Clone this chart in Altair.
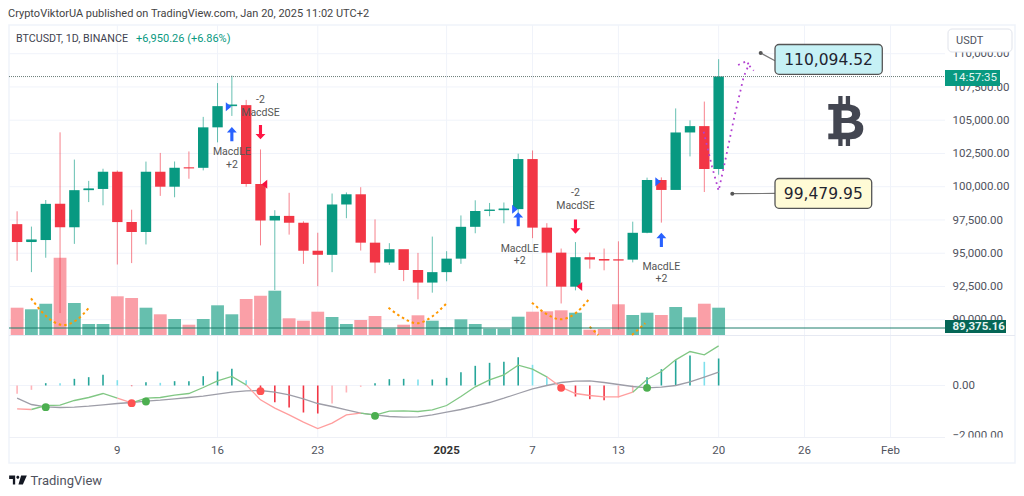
import altair as alt
import pandas as pd

# ---------- data ----------
opens  = [97185,95840,95990,98710,96950,99740,99831,101125,97340,96593,101125,100000,101424,101420,104463,106058,
          106133,100204,97461,97805,97291,95186,94877,98663,99430,95792,94299,95300,93738,92792,93576,94591,96984,
          98174,98236,98314,102078,96922,95043,92484,94701,94566,94516,94516,96534,100505,99757,104078,104556,101331]
highs  = [98150,97000,99000,104088,102039,100439,101350,101215,98270,101888,102540,101895,102650,105250,107793,108353,
          106524,102800,98233,99540,97400,96538,99487,99569,99963,97544,95755,95225,95024,96250,95151,97839,98976,
          98778,98813,102482,102724,97258,95349,95836,95050,95350,95893,97371,100681,100700,105885,104988,106400,109588]
lows   = [94430,93578,94660,90500,95700,98844,98600,94150,94256,95658,99311,99205,100600,101227,103333,105321,
          100000,95587,92232,96398,94200,92520,93575,97632,95199,93500,94118,92900,91530,92033,92888,94201,96500,
          97781,97250,97920,96132,92500,91220,92206,93840,93712,89256,94310,96500,97300,99950,102277,99600,100900]
closes = [95840,95990,98710,96950,99740,99831,101125,97340,96593,101125,100000,101424,101420,104463,106058,106133,
          100204,97461,97805,97291,95186,94881,98663,99430,95792,94299,95300,93738,92792,93576,94591,96984,98174,
          98236,98314,102078,96922,95043,92484,94701,94566,94488,94488,96534,100504,99756,104078,104556,101331,108282]
volumes = [27.3,25.7,31.3,77.3,32,11,11,38.7,37,27.3,20.7,16,10.3,16,29.7,20.7,36,39.3,44.3,16.7,14.3,23.3,18,
           11,15,19,6.3,10.3,19.7,14.3,7.7,15.7,11,6.3,6.3,18.3,23.3,23.7,24.7,22.3,5.3,6,30.7,20,22.3,20,28,17.7,31.3,27.3]
macd_hist = [-333,-173,93,93,267,333,427,213,-27,133,107,173,173,373,560,667,213,-347,-667,-880,-1080,-1120,-720,
             -280,-53,93,253,267,240,240,307,533,787,907,947,1133,827,360,-200,-440,-547,-587,-480,-267,333,653,1013,1200,947,1080]
hist_colour_key = ["l","l","d","c","d","d","d","c","r","d","c","d","d","d","d","d","c","r","r","r","r","r","l",
                   "l","l","d","d","d","c","d","d","d","d","d","d","d","c","c","r","r","r","r","l","l","d","d","d","d","c","d"]
macd_line = [-933,-960,-800,-787,-600,-480,-320,-507,-693,-507,-480,-387,-320,-80,187,360,27,-573,-907,-1173,-1467,
             -1720,-1507,-1173,-1107,-1187,-1027,-1013,-1040,-973,-800,-440,-53,227,427,813,653,347,-67,-320,-400,-453,-453,-267,240,560,1027,1360,1227,1587]
signal_line = [-507,-760,-853,-880,-867,-827,-773,-720,-680,-627,-587,-533,-480,-427,-347,-267,-213,-200,-267,-373,-533,
               -720,-840,-973,-1107,-1173,-1240,-1267,-1253,-1173,-1067,-960,-827,-680,-507,-320,-133,0,120,173,187,120,40,-40,-93,-67,0,147,333,533]
macd_runs = [("r",0,1),("g",1,7),("r",7,8),("g",8,16),("r",16,24),("g",24,37),("r",37,43),("g",43,49)]
cross_days = [2,8,9,17,25,38,44]
cross_vals = [-867,-707,-640,-227,-1213,-93,-93]
cross_keys = ["g","r","g","r","g","r","g"]

date_ticks = [7,14,21,30,36,42,49,55,61]
date_labels = ["9","16","23","2025","7","13","20","26","Feb"]
price_ticks = [90000,92500,95000,97500,100000,102500,105000,107500,110000]
indicator_ticks = [0,-2000]
indicator_labels = ["0.00","−2,000.00"]

cup_arcs = [
    ("a",[0.97,1.72,2.53,3.23,4.16,5.02],[36.7,23.3,13.3,10,15,27.3]),
    ("b",[25.94,26.88,27.92,28.97,29.95],[27.3,17.7,11.7,18.3,31]),
    ("c",[35.96,36.9,37.95,39,39.9],[32.3,21.7,15.7,21.7,35]),
    ("d",[39.99,40.6],[8.3,0]),
    ("e",[42.95,43.88],[0,11.7]),
]
forecast_a_x = [47.95,48.54,49.0,49.47,50.05,50.75,51.1,51.45]
forecast_a_y = [104135,101504,99700,102008,105015,108271,109150,108722]
forecast_b_x = [50.36,50.99,51.1]
forecast_b_y = [109150,109450,109150]

long_days = [15,35,45]
long_prices = [106015,98300,100376]
short_days = [17,39]
short_prices = [100180,92500]
last_close = 108282
support_price = 89375.16
forecast_high = "110,094.52"
forecast_low = "99,479.95"

# ---------- scales ----------
W, H = 1008, 480
ORIGIN = 8
X_DOMAIN = [-0.636, 69.77]
x_scale = alt.Scale(domain=X_DOMAIN, range=[0, W], nice=False, zero=False, padding=0)
price_scale = alt.Scale(domain=[88850, 112158], range=[327, 17], nice=False, zero=False)
vol_scale = alt.Scale(domain=[0, 100], range=[327, 227], nice=False, zero=False)
ind_scale = alt.Scale(domain=[-2000, 1000], range=[427.5, 352.5], nice=False, zero=False)

GREEN, RED = "#089981", "#F23645"
FONT = "Roboto"
TXT = "#50535E"

def X(f="x"):
    return alt.X(f"{f}:Q", scale=x_scale, axis=None)
def PY(f="y"):
    return alt.Y(f"{f}:Q", scale=price_scale, axis=None)
def VY(f="y"):
    return alt.Y(f"{f}:Q", scale=vol_scale, axis=None)
def IY(f="y"):
    return alt.Y(f"{f}:Q", scale=ind_scale, axis=None)
def colour(domain, rng):
    return alt.Color("k:N", scale=alt.Scale(domain=domain, range=rng), legend=None)
def px(v):
    return alt.value(v - ORIGIN)

n = len(opens)
days = list(range(n))
candles = pd.DataFrame({"x": days, "o": opens, "h": highs, "l": lows, "c": closes,
                        "k": ["u" if c >= o else "d" for o, c in zip(opens, closes)], "v": volumes})
doji = candles[(candles.o - candles.c).abs() < 220]
UD = (["u", "d"], [GREEN, RED])

layers = []

def rect_px(x0, x1, y0, y1, **kw):
    return alt.Chart(pd.DataFrame({"a": [0]})).mark_rect(**kw).encode(
        x=px(x0), x2=px(x1), y=px(y0), y2=px(y1))

def label_px(text, x, y, **kw):
    base = dict(font=FONT, fontSize=11, color=TXT, align="left", baseline="middle")
    base.update(kw)
    return alt.Chart(pd.DataFrame({"t": [text]})).mark_text(**base).encode(
        x=px(x), y=px(y), text="t:N")

# frame
layers.append(rect_px(9, 1015, 25, 463, fill="white", stroke="#F0F3FA", strokeWidth=1.5))

# grid
grid_v = pd.DataFrame({"x": date_ticks})
layers.append(alt.Chart(grid_v).mark_rule(color="#F0F3FA", strokeWidth=1).encode(x=X(), y=px(25), y2=px(437)))
grid_h = pd.DataFrame({"y": price_ticks})
layers.append(alt.Chart(grid_h).mark_rule(color="#F0F3FA", strokeWidth=1).encode(y=PY(), x=px(9), x2=px(945)))
layers.append(alt.Chart(pd.DataFrame({"y": indicator_ticks[:1]})).mark_rule(color="#F0F3FA", strokeWidth=1).encode(y=IY(), x=px(9), x2=px(945)))
layers.append(rect_px(9, 1015, 335, 336, fill="#E6E9F2"))
layers.append(rect_px(9, 945, 437, 438, fill="#EEF0F6"))

# volume
vol_df = candles.assign(y0=0)
layers.append(alt.Chart(vol_df).mark_bar(size=12.8).encode(
    x=X(), y=VY("v"), y2="y0:Q", color=colour(["u", "d"], ["#66BFAE", "#FA9FA7"])))

# orange cup arcs
arc_rows = [{"x": x, "y": y, "g": g} for g, xs, ys in cup_arcs for x, y in zip(xs, ys)]
layers.append(alt.Chart(pd.DataFrame(arc_rows)).mark_line(
    color="#FF9800", strokeWidth=2, strokeDash=[2.5, 3], interpolate="monotone").encode(
    x=X(), y=VY(), detail="g:N", order="x:Q"))

# candles
layers.append(alt.Chart(candles).mark_rule(strokeWidth=1, opacity=0.62).encode(
    x=X(), y=PY("l"), y2="h:Q", color=colour(*UD)))
layers.append(alt.Chart(candles).mark_bar(size=10.4).encode(
    x=X(), y=PY("o"), y2="c:Q", color=colour(*UD)))
layers.append(alt.Chart(doji).mark_tick(orient="horizontal", size=10.4, thickness=1.6).encode(
    x=X(), y=PY("c"), color=colour(*UD)))

# signal triangles
FLAG_R = "M-0.55,-0.9 L0.55,0 L-0.55,0.9 Z"
FLAG_L = "M0.55,-0.9 L-0.55,0 L0.55,0.9 Z"
layers.append(alt.Chart(pd.DataFrame({"x": long_days, "y": long_prices})).mark_point(
    shape=FLAG_R, filled=True, size=100, color="#2962FF", opacity=1, xOffset=-3.3).encode(x=X(), y=PY()))
layers.append(alt.Chart(pd.DataFrame({"x": short_days, "y": short_prices})).mark_point(
    shape=FLAG_L, filled=True, size=100, color="#F7103F", opacity=1, xOffset=4).encode(x=X(), y=PY()))

# arrows
ARROW_UP = "M0,-1 L0.7,-0.25 L0.22,-0.25 L0.22,1 L-0.22,1 L-0.22,-0.25 L-0.7,-0.25 Z"
ARROW_DN = "M0,1 L0.7,0.25 L0.22,0.25 L0.22,-1 L-0.22,-1 L-0.22,0.25 L-0.7,0.25 Z"
layers.append(alt.Chart(pd.DataFrame({"x": [15, 35, 45], "y": [103950, 97550, 96000]})).mark_point(
    shape=ARROW_UP, filled=True, size=200, color="#2962FF", opacity=1).encode(x=X(), y=PY()))
layers.append(alt.Chart(pd.DataFrame({"x": [17, 39], "y": [104100, 97000]})).mark_point(
    shape=ARROW_DN, filled=True, size=200, color="#FF1744", opacity=1).encode(x=X(), y=PY()))

# signal labels
sig = pd.DataFrame({
    "x": [15, 15, 17, 17, 35.1, 35.1, 39, 39, 45, 45],
    "y": [102600, 101620, 106500, 105550, 95350, 94400, 99500, 98550, 94000, 93050],
    "t": ["MacdLE", "+2", "-2", "MacdSE", "MacdLE", "+2", "-2", "MacdSE", "MacdLE", "+2"]})
layers.append(alt.Chart(sig).mark_text(font=FONT, fontSize=10.5, color="#555").encode(x=X(), y=PY(), text="t:N"))

# forecast path
fa = pd.DataFrame({"x": forecast_a_x, "y": forecast_a_y, "g": "a", "i": range(len(forecast_a_x))})
fb = pd.DataFrame({"x": forecast_b_x, "y": forecast_b_y, "g": "b", "i": range(len(forecast_b_x))})
layers.append(alt.Chart(pd.concat([fa, fb])).mark_line(
    color="#B23FD1", strokeWidth=1.8, strokeDash=[1.8, 4]).encode(x=X(), y=PY(), detail="g:N", order="i:Q"))

# last price + support line
layers.append(alt.Chart(pd.DataFrame({"y": [last_close]})).mark_rule(
    color="#6B7C78", strokeWidth=1, strokeDash=[1, 1]).encode(y=PY(), x=px(9), x2=px(945)))
layers.append(alt.Chart(pd.DataFrame({"y": [support_price]})).mark_rule(
    color="#1F7F6C", strokeWidth=1).encode(y=PY(), x=px(9), x2=px(945)))

# MACD histogram
hist = pd.DataFrame({"x": days, "y": macd_hist, "y0": 0, "k": hist_colour_key})
layers.append(alt.Chart(hist).mark_rule(strokeWidth=1.6).encode(
    x=X(), y=IY(), y2="y0:Q",
    color=colour(["d", "c", "r", "l"], ["#26A69A", "#7FE0EC", "#F23645", "#FFB3B8"])))

# MACD lines
layers.append(alt.Chart(pd.DataFrame({"x": days, "y": signal_line})).mark_line(
    color="#9E9EA8", strokeWidth=1.3).encode(x=X(), y=IY()))
run_rows = [{"x": i, "y": macd_line[i], "g": j, "k": k}
            for j, (k, a, b) in enumerate(macd_runs) for i in range(a, b + 1)]
layers.append(alt.Chart(pd.DataFrame(run_rows)).mark_line(strokeWidth=1.3).encode(
    x=X(), y=IY(), detail="g:N", order="x:Q", color=colour(["g", "r"], ["#81C784", "#FF9E9E"])))
layers.append(alt.Chart(pd.DataFrame({"x": cross_days, "y": cross_vals, "k": cross_keys})).mark_point(
    shape="circle", filled=True, size=62, opacity=1).encode(
    x=X(), y=IY(), color=colour(["g", "r"], ["#4CAF50", "#FF5252"])))

# right axis labels
price_lbl = pd.DataFrame({"y": price_ticks, "t": [f"{p:,.2f}" for p in price_ticks]})
layers.append(alt.Chart(price_lbl).mark_text(font=FONT, fontSize=11.5, color=TXT, align="left", dy=0.7).encode(
    x=px(952.5), y=PY(), text="t:N"))
ind_lbl = pd.DataFrame({"y": indicator_ticks, "t": indicator_labels})
layers.append(alt.Chart(ind_lbl).mark_text(font=FONT, fontSize=11.5, color=TXT, align="left").encode(
    x=px(952.5), y=IY(), text="t:N"))
layers.append(rect_px(945, 1014, 437.5, 462, fill="white"))

# date labels
date_df = pd.DataFrame({"x": date_ticks, "t": date_labels, "w": ["bold" if d == "2025" else "normal" for d in date_labels]})
layers.append(alt.Chart(date_df[date_df.w == "normal"]).mark_text(font=FONT, fontSize=11.5, color=TXT).encode(
    x=X(), y=px(451), text="t:N"))
layers.append(alt.Chart(date_df[date_df.w == "bold"]).mark_text(font=FONT, fontSize=11.5, color="#333", fontWeight="bold").encode(
    x=X(), y=px(451), text="t:N"))

# price scale tags
layers.append(rect_px(945, 1000, 70, 86, fill=GREEN))
layers.append(label_px("14:57:35", 952.5, 78, color="#E6F5F1", fontSize=11.5))
layers.append(rect_px(945, 1006, 320, 333, fill="#056656"))
layers.append(label_px(f"{support_price:,.2f}", 952.5, 327, color="#E6F5F1", fontSize=11.5, fontWeight="bold"))
layers.append(rect_px(948, 1012, 29, 52, fill="white", stroke="#E0E3EB", strokeWidth=1, cornerRadius=4))
layers.append(label_px("USDT", 956, 40.5, fontSize=11))

# callouts
def leader(x0, y0, x1, y1):
    return [alt.Chart(pd.DataFrame({"a": [0]})).mark_rule(color="#777", strokeWidth=1.2).encode(
                x=px(x0), y=px(y0), x2=px(x1), y2=px(y1)),
            alt.Chart(pd.DataFrame({"a": [0]})).mark_point(shape="circle", filled=True, size=16, color="#555", opacity=1).encode(
                x=px(x0), y=px(y0))]
layers += leader(760.7, 53, 775, 60.7)
layers += leader(732.3, 193.7, 775, 193.4)
layers.append(rect_px(775, 882.3, 44.5, 74.3, fill="#C6F1F5", stroke="#555", strokeWidth=1.3, cornerRadius=4))
layers.append(label_px(forecast_high, 828.6, 60, font="DejaVu Sans", fontSize=15.5, color="#1f2430", align="center"))
layers.append(rect_px(775, 871.7, 178.5, 208.3, fill="#FFFBD6", stroke="#555", strokeWidth=1.3, cornerRadius=4))
layers.append(label_px(forecast_low, 823.3, 193.5, font="DejaVu Sans", fontSize=15.5, color="#1f2430", align="center"))

# bitcoin logo
BITCOIN = ("M-0.7,-0.68 L-0.3,-0.68 L-0.3,-1 L-0.13,-1 L-0.13,-0.68 L0,-0.68 L0,-1 L0.17,-1 L0.17,-0.66 "
           "Q0.6,-0.6 0.58,-0.28 Q0.56,-0.06 0.4,-0.03 Q0.72,0.03 0.7,0.33 Q0.65,0.73 0.17,0.73 "
           "L0.17,1 L0,1 L0,0.73 L-0.13,0.73 L-0.13,1 L-0.3,1 L-0.3,0.73 L-0.7,0.73 L-0.7,0.5 L-0.5,0.5 "
           "L-0.5,-0.45 L-0.7,-0.45 Z "
           "M-0.17,-0.42 L-0.17,-0.12 L0.05,-0.12 Q0.25,-0.14 0.25,-0.27 Q0.25,-0.42 0.05,-0.42 Z "
           "M-0.17,0.08 L-0.17,0.47 L0.1,0.47 Q0.37,0.45 0.37,0.27 Q0.37,0.08 0.1,0.08 Z")
layers.append(alt.Chart(pd.DataFrame({"a": [0]})).mark_point(shape=BITCOIN, filled=True, size=2500, color="#434651", opacity=1).encode(
    x=px(845.8), y=px(121)))

# header + footer
layers.append(label_px("CryptoViktorUA published on TradingView.com, Jan 20, 2025 11:02 UTC+2", 8, 13.5, fontSize=11, color="#444"))
layers.append(label_px("BTCUSDT, 1D, BINANCE", 16, 39, fontSize=10.7, color="#3F4350"))
layers.append(label_px("+6,950.26 (+6.86%)", 136, 39, fontSize=11, color=GREEN))
LOGO = ("M-1,-0.5 L-0.32,-0.5 L-0.32,0.5 L-0.58,0.5 L-0.58,-0.12 L-1,-0.12 Z "
        "M0.15,-0.3 A0.17,0.17 0 1 1 -0.19,-0.3 A0.17,0.17 0 1 1 0.15,-0.3 Z "
        "M0.35,-0.5 L1,-0.5 L0.55,0.5 L0.05,0.5 Z")
layers.append(alt.Chart(pd.DataFrame({"a": [0]})).mark_point(shape=LOGO, filled=True, size=313, color="#131722", opacity=1).encode(
    x=px(18), y=px(480)))
layers.append(label_px("TradingView", 30.5, 480.5, fontSize=13, color="#50535E"))

chart = alt.layer(*layers).resolve_scale(y="independent", x="shared", color="independent").properties(
    width=W, height=H, padding=0, autosize=alt.AutoSizeParams(type="none"), background="white"
).configure_view(stroke=None)

chart.save("out.html", embed_options={"renderer": "svg", "actions": False})
